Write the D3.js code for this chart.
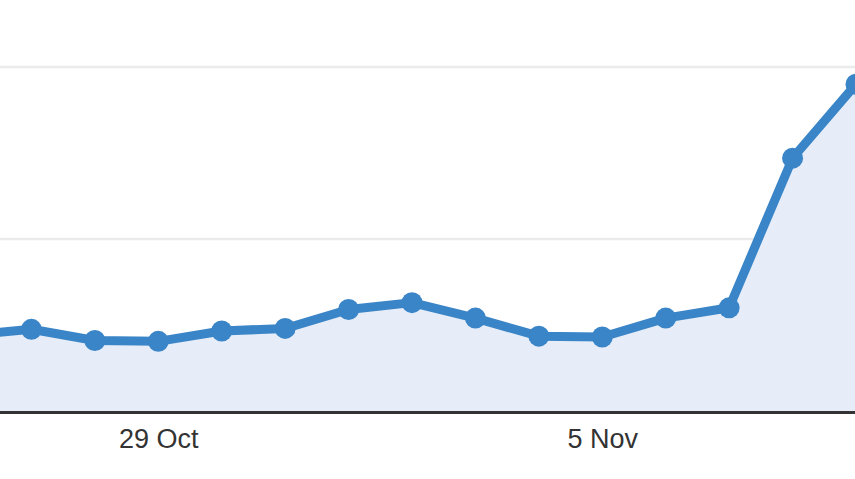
<!DOCTYPE html>
<html>
<head>
<meta charset="utf-8">
<script src="https://cdn.jsdelivr.net/npm/d3@7"></script>
<style>
  body { margin: 0; background: #fff; }
  svg { display: block; }
  .x.axis text { font-family: "Liberation Sans", Arial, sans-serif; font-size: 27px; fill: #333; }
</style>
</head>
<body>
<div class="chart_container"></div>
<script>
// 資料
const days = ['2015-10-26','2015-10-27','2015-10-28','2015-10-29','2015-10-30','2015-10-31',
              '2015-11-01','2015-11-02','2015-11-03','2015-11-04','2015-11-05','2015-11-06',
              '2015-11-07','2015-11-08','2015-11-09']
const sessions = [44, 47.5, 41, 40.5, 46.5, 48, 59, 63, 54, 43.5, 43, 54, 60, 147, 190]
const gridValues = [100, 200]
const tickDays = ['2015-10-29','2015-11-05']

const parseDate = d3.timeParse('%Y-%m-%d')
const data = days.map((d, i) => ({date: parseDate(d), value: sessions[i]}))

const svg_width = 855
const svg_height = 479

const svg = d3.select('.chart_container').append('svg')
    .attr('width', svg_width).attr('height', svg_height)

// scale - 左右兩端被裁掉
const xScale = d3.scaleTime()
    .domain(d3.extent(data, d => d.date))
    .range([-32, 856])
const yScale = d3.scaleLinear().domain([0, 200]).range([411, 67])

// 格線
svg.append('g').selectAll('line').data(gridValues).join('line')
    .attr('x1', 0).attr('x2', svg_width)
    .attr('y1', d => yScale(d)).attr('y2', d => yScale(d))
    .style('stroke', '#ebebeb').style('stroke-width', 2.5)

// 面積
const area = d3.area().x(d => xScale(d.date)).y0(yScale(0)).y1(d => yScale(d.value))
svg.append('path').datum(data).attr('d', area).style('fill', '#e6edf8')

// 線
const line = d3.line().x(d => xScale(d.date)).y(d => yScale(d.value))
svg.append('path').datum(data).attr('d', line)
    .style('fill', 'none').style('stroke', '#3a85c7')
    .style('stroke-width', 9).style('stroke-linejoin', 'round')

// 點
svg.append('g').selectAll('circle').data(data).join('circle')
    .attr('cx', d => xScale(d.date)).attr('cy', d => yScale(d.value))
    .attr('r', 10.5).style('fill', '#3a85c7')

// x 軸
const xAxis = d3.axisBottom(xScale)
    .tickValues(tickDays.map(parseDate))
    .tickFormat(d3.timeFormat('%-d %b'))
    .tickSize(0).tickPadding(18)
const xAxisDraw = svg.append('g').attr('class', 'x axis')
    .attr('transform', `translate(0,${yScale(0)})`).call(xAxis)
xAxisDraw.select('.domain').remove()

// 底線
svg.append('line')
    .attr('x1', 0).attr('x2', svg_width)
    .attr('y1', yScale(0) + 1.5).attr('y2', yScale(0) + 1.5)
    .style('stroke', '#333').style('stroke-width', 3)
</script>
</body>
</html>
